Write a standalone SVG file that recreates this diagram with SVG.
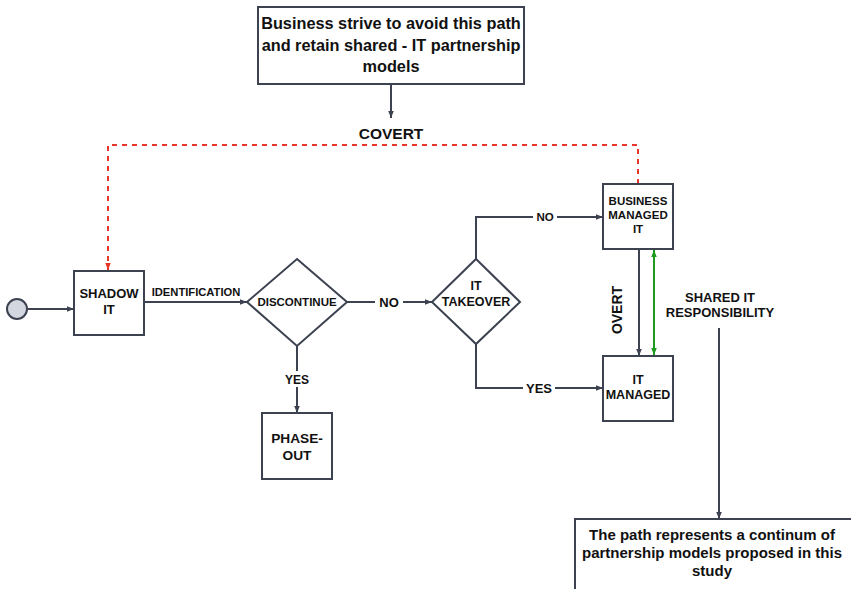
<svg xmlns="http://www.w3.org/2000/svg" width="851" height="589" viewBox="0 0 851 589">
  <style>
    .box { fill: #ffffff; stroke: #3c4250; stroke-width: 2; }
    .line { fill: none; stroke: #3c4250; stroke-width: 2; }
    .t { font-family: "Liberation Sans", Arial, sans-serif; font-weight: bold; fill: #111; text-anchor: middle; }
    .big { font-size: 16.3px; }
    .note { font-size: 15px; }
    .mid { font-size: 13px; }
    .node { font-size: 12.5px; }
    .sm { font-size: 11.5px; }
  </style>
  <defs>
    <marker id="arr" viewBox="0 0 10 10" refX="10" refY="5" markerWidth="7" markerHeight="7" markerUnits="userSpaceOnUse" orient="auto">
      <path d="M0,1 L10,5 L0,9 Z" fill="#3c4250"/>
    </marker>
    <marker id="arrRed" viewBox="0 0 10 10" refX="10" refY="5" markerWidth="7" markerHeight="7" markerUnits="userSpaceOnUse" orient="auto">
      <path d="M0,1 L10,5 L0,9 Z" fill="#e8362a"/>
    </marker>
    <marker id="arrGreen" viewBox="0 0 10 10" refX="10" refY="5" markerWidth="7" markerHeight="7" markerUnits="userSpaceOnUse" orient="auto-start-reverse">
      <path d="M0,1 L10,5 L0,9 Z" fill="#1e9a1e"/>
    </marker>
  </defs>

  <!-- connectors -->
  <g id="connectors">
    <line class="line" x1="391" y1="84" x2="391" y2="118" marker-end="url(#arr)"/>
    <path d="M638,184 L638,145 L108,145 L108,270" fill="none" stroke="#e8362a" stroke-width="2" stroke-dasharray="5,5" marker-end="url(#arrRed)"/>
    <line class="line" x1="27" y1="309" x2="74" y2="309" marker-end="url(#arr)"/>
    <line class="line" x1="144" y1="302" x2="247" y2="302" marker-end="url(#arr)"/>
    <line class="line" x1="347" y1="302" x2="432" y2="302" marker-end="url(#arr)"/>
    <line class="line" x1="297" y1="346" x2="297" y2="413" marker-end="url(#arr)"/>
    <path class="line" d="M476,259 L476,217 L603,217" marker-end="url(#arr)"/>
    <path class="line" d="M476,344 L476,388 L603,388" marker-end="url(#arr)"/>
    <line class="line" x1="639" y1="249" x2="639" y2="356" marker-end="url(#arr)"/>
    <line x1="654" y1="250" x2="654" y2="355" stroke="#1e9a1e" stroke-width="2" marker-start="url(#arrGreen)" marker-end="url(#arrGreen)"/>
    <line class="line" x1="719" y1="328" x2="719" y2="519" marker-end="url(#arr)"/>

    <!-- connector labels -->
    <rect x="375" y="295" width="28" height="14" fill="#fff"/>
    <rect x="533" y="210" width="24" height="14" fill="#fff"/>
    <rect x="523" y="381" width="32" height="14" fill="#fff"/>
    <rect x="281" y="371" width="32" height="16" fill="#fff"/>
    <text class="t" style="font-size:15.5px" x="391" y="139">COVERT</text>
    <text class="t" style="font-size:11.2px" x="196" y="296">IDENTIFICATION</text>
    <text class="t mid" x="389" y="307">NO</text>
    <text class="t" style="font-size:12px" x="297" y="384">YES</text>
    <text class="t sm" x="545" y="221">NO</text>
    <text class="t mid" x="539" y="393">YES</text>
    <text class="t" style="font-size:14px" transform="translate(622,310) rotate(-90)">OVERT</text>
    <text class="t mid" x="720" y="302">SHARED IT</text>
    <text class="t mid" x="720" y="317">RESPONSIBILITY</text>
  </g>

  <g id="note-top">
    <rect class="box" x="258" y="7" width="266" height="77"/>
    <text class="t big" x="391" y="29">Business strive to avoid this path</text>
    <text class="t big" x="391" y="51">and retain shared - IT partnership</text>
    <text class="t big" x="391" y="72">models</text>
  </g>

  <g id="start">
    <circle cx="17" cy="309" r="10" fill="#d3d7df" stroke="#3c4250" stroke-width="2"/>
  </g>

  <g id="shadow-it">
    <rect class="box" x="74" y="271" width="70" height="64"/>
    <text class="t mid" x="109" y="298">SHADOW</text>
    <text class="t mid" x="109" y="314">IT</text>
  </g>

  <g id="discontinue">
    <polygon class="box" points="297,259 347,302 297,346 247,302"/>
    <text class="t sm" x="297" y="306">DISCONTINUE</text>
  </g>

  <g id="phase-out">
    <rect class="box" x="262" y="413" width="70" height="66"/>
    <text class="t" style="font-size:13.7px" x="297" y="443">PHASE-</text>
    <text class="t" style="font-size:13.7px" x="297" y="460">OUT</text>
  </g>

  <g id="it-takeover">
    <polygon class="box" points="476,259 520,302 476,344 432,302"/>
    <text class="t node" x="476" y="290">IT</text>
    <text class="t node" x="476" y="306">TAKEOVER</text>
  </g>

  <g id="business-managed-it">
    <rect class="box" x="603" y="184" width="70" height="65"/>
    <text class="t sm" x="638" y="205">BUSINESS</text>
    <text class="t sm" x="638" y="219">MANAGED</text>
    <text class="t sm" x="638" y="233">IT</text>
  </g>

  <g id="it-managed">
    <rect class="box" x="603" y="356" width="70" height="65"/>
    <text class="t node" x="638" y="384">IT</text>
    <text class="t node" x="638" y="399">MANAGED</text>
  </g>

  <g id="note-bottom">
    <rect class="box" x="575" y="519" width="290" height="90"/>
    <text class="t note" x="712" y="540">The path represents a continum of</text>
    <text class="t note" x="712" y="558">partnership models proposed in this</text>
    <text class="t note" x="712" y="576">study</text>
  </g>
</svg>
